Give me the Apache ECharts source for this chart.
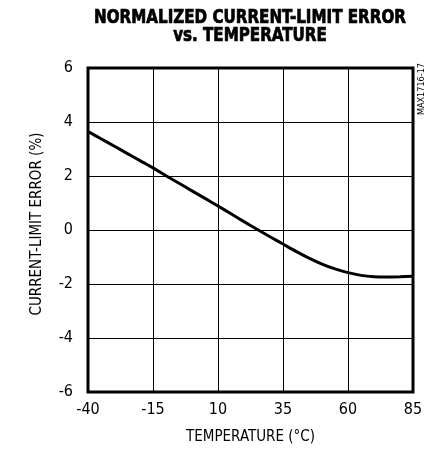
<!DOCTYPE html>
<html>
<head>
<meta charset="utf-8">
<script src="https://cdn.jsdelivr.net/npm/echarts@6/dist/echarts.min.js"></script>
<style>html,body{margin:0;padding:0;background:#fff}#c{width:430px;height:450px}</style>
</head>
<body>
<div id="c"></div>
<script>
var temperatures = [-40,-35,-30,-25,-20,-15,-10,-5,0,5,10,15,20,25,30,35,40,45,50,55,60,65,70,75,80,85];
var errorPct = [3.65,3.38,3.11,2.84,2.57,2.30,2.01,1.73,1.45,1.17,0.89,0.60,0.31,0.03,-0.25,-0.52,-0.79,-1.04,-1.26,-1.44,-1.58,-1.68,-1.73,-1.74,-1.73,-1.71];
var xTicks = [-40,-15,10,35,60,85];
var yTicks = [-6,-4,-2,0,2,4,6];
var titleLines = ['NORMALIZED CURRENT-LIMIT ERROR', 'vs. TEMPERATURE'];
var xName = 'TEMPERATURE (°C)';
var yName = 'CURRENT-LIMIT ERROR (%)';
var tag = 'MAX1716-17';

var FONT = "'Liberation Sans Narrow', 'DejaVu Sans Condensed', 'Arial Narrow', sans-serif";
var xMin = xTicks[0];
var chart = echarts.init(document.getElementById('c'), null, {renderer: 'canvas'});
chart.setOption({
  animation: false,
  backgroundColor: '#fff',
  grid: {left: 88, right: 17, top: 68, bottom: 56, show: true, borderColor: '#000', borderWidth: 3, backgroundColor: 'transparent'},
  graphic: [
    {type: 'text', x: 250, y: 9, scaleX: 0.885, style: {text: titleLines.join('\n'), font: "bold 19px " + FONT, fill: '#000', stroke: '#000', lineWidth: 0.7, textAlign: 'center', textVerticalAlign: 'top', lineHeight: 18}},
    {type: 'text', x: 422, y: 89, rotation: Math.PI/2, style: {text: tag, font: "9px " + FONT, fill: '#000', textAlign: 'center', textVerticalAlign: 'middle'}}
  ],
  xAxis: {
    type: 'value', min: 0, max: xTicks[xTicks.length-1] - xMin, interval: xTicks[1] - xTicks[0],
    name: xName, nameLocation: 'middle', nameGap: 38,
    nameTextStyle: {fontFamily: FONT, fontSize: 15, color: '#000'},
    axisLine: {show: false}, axisTick: {show: false},
    axisLabel: {fontFamily: FONT, fontSize: 16, color: '#000', margin: 10, formatter: function(v){ return String(v + xMin); }},
    splitLine: {show: true, lineStyle: {color: '#000', width: 1}}
  },
  yAxis: {
    type: 'value', min: yTicks[0], max: yTicks[yTicks.length-1], interval: yTicks[1] - yTicks[0],
    name: yName, nameLocation: 'middle', nameGap: 43, nameRotate: 90,
    nameTextStyle: {fontFamily: FONT, fontSize: 15, color: '#000', padding: [0, 0, 0, 12]},
    axisLine: {show: false}, axisTick: {show: false},
    axisLabel: {fontFamily: FONT, fontSize: 16, color: '#000', margin: 15},
    splitLine: {show: true, lineStyle: {color: '#000', width: 1}}
  },
  series: [{
    type: 'line', smooth: 0.3, showSymbol: false,
    lineStyle: {color: '#000', width: 3},
    data: temperatures.map(function(t, i){ return [t - xMin, errorPct[i]]; })
  }]
});
</script>
</body>
</html>
